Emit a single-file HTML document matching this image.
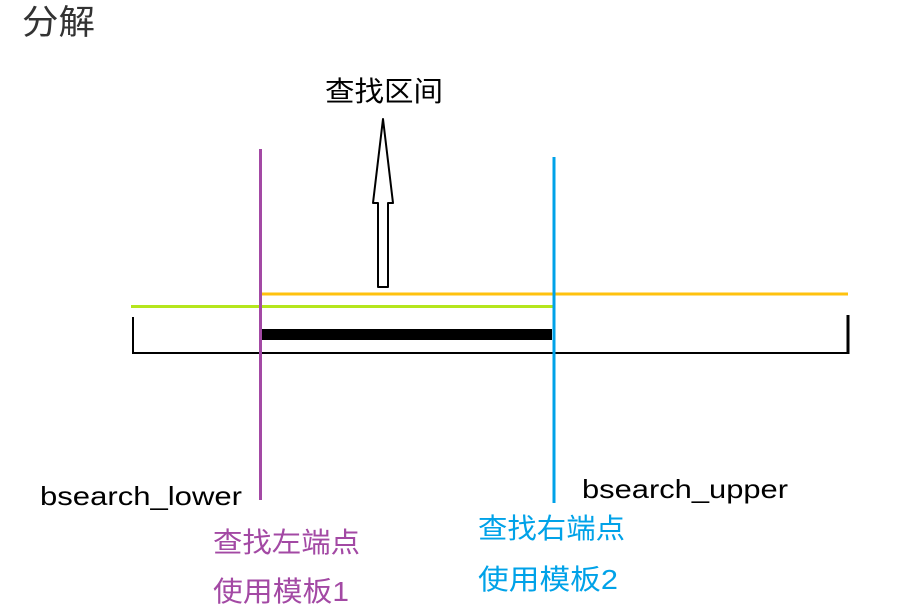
<!DOCTYPE html>
<html><head><meta charset="utf-8"><style>
html,body{margin:0;padding:0;background:#fff;width:923px;height:614px;overflow:hidden}
svg{display:block}
text{font-family:"Liberation Sans","Noto Sans CJK SC",sans-serif}
</style></head><body>
<svg width="923" height="614" viewBox="0 0 923 614" xmlns="http://www.w3.org/2000/svg">
<text x="22" y="34" font-size="34" fill="#333" textLength="73" lengthAdjust="spacingAndGlyphs">分解</text>
<text x="325" y="101" font-size="28" fill="#000" textLength="118" lengthAdjust="spacingAndGlyphs">查找区间</text>
<!-- arrow -->
<polygon points="383,119 393,203 388,203 388,287 378,287 378,203 373,203" fill="#fff" stroke="#000" stroke-width="2" stroke-linejoin="round"/>
<!-- lines -->
<line x1="262" y1="294" x2="848" y2="294" stroke="#ffc20e" stroke-width="3"/>
<line x1="131" y1="306.5" x2="553" y2="306.5" stroke="#b5e61d" stroke-width="3"/>
<rect x="262" y="329" width="290" height="11" fill="#000"/>
<line x1="133" y1="353" x2="848" y2="353" stroke="#000" stroke-width="2"/>
<line x1="133" y1="317" x2="133" y2="354" stroke="#000" stroke-width="2"/>
<line x1="848" y1="315" x2="848" y2="354" stroke="#000" stroke-width="3"/>
<line x1="260.5" y1="149" x2="260.5" y2="500" stroke="#a349a4" stroke-width="3"/>
<line x1="554" y1="157" x2="554" y2="503" stroke="#00a2e8" stroke-width="3"/>
<!-- labels -->
<text x="40" y="505" font-size="26" fill="#000" textLength="202" lengthAdjust="spacingAndGlyphs">bsearch_lower</text>
<text x="582" y="498" font-size="26" fill="#000" textLength="206" lengthAdjust="spacingAndGlyphs">bsearch_upper</text>
<text x="213" y="552" font-size="28" fill="#a349a4" textLength="147" lengthAdjust="spacingAndGlyphs">查找左端点</text>
<text x="213" y="601" font-size="28" fill="#a349a4" textLength="136" lengthAdjust="spacingAndGlyphs">使用模板1</text>
<text x="478" y="538" font-size="28" fill="#00a2e8" textLength="147" lengthAdjust="spacingAndGlyphs">查找右端点</text>
<text x="478" y="589" font-size="28" fill="#00a2e8" textLength="140" lengthAdjust="spacingAndGlyphs">使用模板2</text>
</svg>
</body></html>
